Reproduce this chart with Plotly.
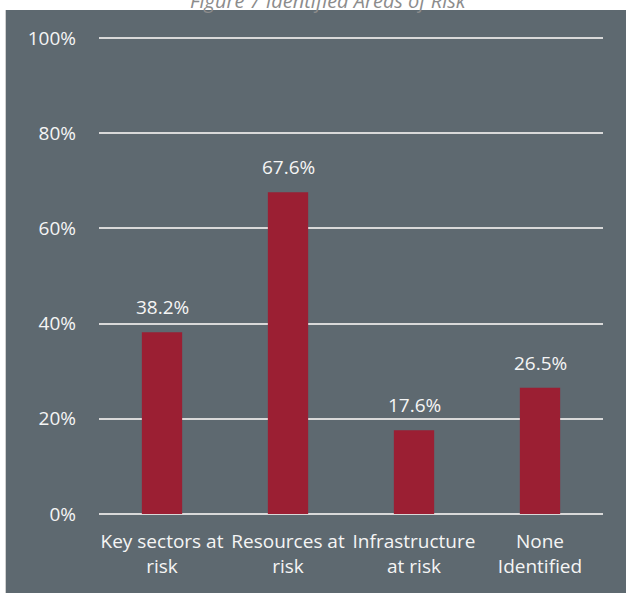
import plotly.graph_objects as go

# Survey results: share of respondents identifying each area of risk
categories = ["Key sectors at<br>risk", "Resources at<br>risk", "Infrastructure<br>at risk", "None<br>Identified"]
values = [38.2, 67.6, 17.6, 26.5]
y_ticks = [0, 20, 40, 60, 80, 100]
y_tick_labels = ["0%", "20%", "40%", "60%", "80%", "100%"]
title_text = "Figure 7 Identified Areas of Risk"

W, H = 626, 593
ML, MR, MT, MB = 99, 23, 36, 79
pw, ph = W - ML - MR, H - MT - MB
y_top = 100.4

panel = "#5E6970"
bar_color = "#9B1F33"
grid_color = "#D9D9D9"
text_color = "#F5F5F5"
font_family = "'Open Sans', sans-serif"
fsize = 19

fig = go.Figure(
    go.Bar(
        x=categories,
        y=values,
        marker=dict(color=bar_color, line=dict(width=0)),
        width=0.32,
        hoverinfo="x+y",
    )
)

# value labels above each bar
for c, v in zip(categories, values):
    fig.add_annotation(
        x=c, y=v, text=f"{v:.1f}%",
        xref="x", yref="y",
        yanchor="bottom", yshift=10,
        showarrow=False,
        font=dict(color=text_color, size=fsize, family=font_family),
    )

# dark panel behind the chart, leaving a thin white margin on top/left
fig.add_shape(
    type="rect",
    xref="paper", yref="paper",
    x0=(6 - ML) / pw, x1=(W + 10 - ML) / pw,
    y0=-(H + 10 - MT - ph) / ph, y1=(ph + MT - 10) / ph,
    fillcolor=panel, line=dict(width=0), layer="below",
)
# thin light border along the panel's left edge
fig.add_shape(
    type="line",
    xref="paper", yref="paper",
    x0=(5.5 - ML) / pw, x1=(5.5 - ML) / pw,
    y0=-(H + 10 - MT - ph) / ph, y1=(ph + MT - 10) / ph,
    line=dict(color="#D0D0D0", width=1), layer="below",
)

fig.add_annotation(
    text=f"<i>{title_text}</i>",
    xref="paper", yref="paper",
    x=(328 - ML) / pw, y=(ph + MT - 1) / ph,
    xanchor="center", yanchor="middle",
    showarrow=False,
    font=dict(color="#8C8C8C", size=20, family=font_family),
)

fig.update_layout(
    width=W, height=H,
    margin=dict(l=ML, r=MR, t=MT, b=MB, pad=0),
    paper_bgcolor="white",
    plot_bgcolor="rgba(0,0,0,0)",
    showlegend=False,
    bargap=0.68,
    font=dict(family=font_family, color=text_color, size=fsize),
    xaxis=dict(
        showgrid=False, showline=False, zeroline=False,
        tickfont=dict(color=text_color, size=fsize, family=font_family),
        ticks="", ticklabelstandoff=14, fixedrange=True,
    ),
    yaxis=dict(
        range=[0, y_top],
        tickvals=y_ticks, ticktext=y_tick_labels,
        showgrid=True, gridcolor=grid_color, gridwidth=2,
        zeroline=True, zerolinecolor=grid_color, zerolinewidth=2,
        showline=False, ticks="",
        ticklabelstandoff=22,
        tickfont=dict(color=text_color, size=fsize, family=font_family),
        fixedrange=True,
    ),
)

fig.write_html("out.html")
